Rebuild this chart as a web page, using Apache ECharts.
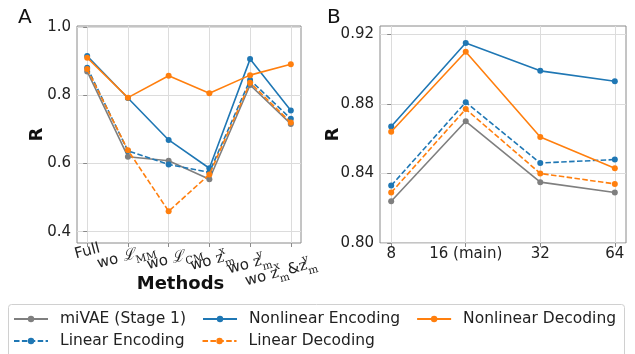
<!DOCTYPE html>
<html><head><meta charset="utf-8">
<script src="https://cdn.jsdelivr.net/npm/echarts@6/dist/echarts.min.js"></script>
<style>html,body{margin:0;padding:0;background:#fff}#c{width:635px;height:354px}</style>
</head><body><div id="c"></div>
<script>
// ---------- data ----------
const seriesNames = ['miVAE (Stage 1)', 'Linear Encoding', 'Nonlinear Encoding', 'Linear Decoding', 'Nonlinear Decoding'];
const methodLabels = ['Full', 'wo ℒ_{MM}', 'wo ℒ_{CM}', 'wo z^{x}_{m}', 'wo z^{y}_{m}', 'wo z^{x}_{m}&z^{y}_{m}'];
const dimLabels = ['8', '16 (main)', '32', '64'];
const yTicksA = [0.4, 0.6, 0.8, 1.0];
const yTicksB = [0.80, 0.84, 0.88, 0.92];

// Panel A: ablation (R per method)
const ablMiVAE  = [0.870, 0.620, 0.608, 0.554, 0.830, 0.716];
const ablLinEnc = [0.881, 0.637, 0.597, 0.574, 0.845, 0.731];
const ablNonEnc = [0.915, 0.792, 0.669, 0.586, 0.906, 0.755];
const ablLinDec = [0.877, 0.639, 0.460, 0.568, 0.837, 0.720];
const ablNonDec = [0.910, 0.793, 0.857, 0.806, 0.859, 0.891];

// Panel B: latent dimension (R per dim)
const dimMiVAE  = [0.824, 0.870, 0.835, 0.829];
const dimLinEnc = [0.833, 0.881, 0.846, 0.848];
const dimNonEnc = [0.867, 0.915, 0.899, 0.893];
const dimLinDec = [0.829, 0.877, 0.840, 0.834];
const dimNonDec = [0.864, 0.910, 0.861, 0.843];

// ---------- styling ----------
const C = { gray: '#7f7f7f', blue: '#1f77b4', orange: '#ff7f0e' };
const seriesStyle = {
  'miVAE (Stage 1)':   { color: C.gray, type: 'solid' },
  'Linear Encoding':   { color: C.blue, type: [5.5, 2.4] },
  'Nonlinear Encoding':{ color: C.blue, type: 'solid' },
  'Linear Decoding':   { color: C.orange, type: [5.5, 2.4] },
  'Nonlinear Decoding':{ color: C.orange, type: 'solid' }
};
const ablData = [ablMiVAE, ablLinEnc, ablNonEnc, ablLinDec, ablNonDec];
const dimData = [dimMiVAE, dimLinEnc, dimNonEnc, dimLinDec, dimNonDec];

const TXT = '#222';
const FRAME = '#8a8a8a';
const GRIDC = '#dcdcdc';
const vSpace = [1, 10, 17, 20, 25, 36];   // label drop (rotated layout)
const hSpace = [0, 6, -8, 0, 8, 30];      // >0 trailing pad (shift left), <0 leading pad (shift right)

function toRich(label, i) {
  let out = '{sp' + i + '| }\n';
  if (hSpace[i] < 0) out += '{hs' + i + '| }';
  const parts = label.split(/(\^\{[^}]*\}|_\{[^}]*\})/).filter(p => p.length);
  parts.forEach(p => {
    if (p[0] === '^') out += '{sup|' + p.slice(2, -1) + '}';
    else if (p[0] === '_') out += '{sub|' + p.slice(2, -1) + '}';
    else {
      p.split(/([zℒ])/).filter(s => s.length).forEach(s => {
        if (s === 'z') out += '{m|z}';
        else if (s === 'ℒ') out += '{cal|ℒ}';
        else out += '{t|' + s + '}';
      });
    }
  });
  if (hSpace[i] > 0) out += '{hs' + i + '| }';
  return out;
}

const richA = {
  t:   { fontFamily: 'DejaVu Sans', fontSize: 15, lineHeight: 24, color: TXT },
  m:   { fontFamily: 'DejaVu Serif', fontSize: 15, lineHeight: 24, color: TXT },
  cal: { fontFamily: 'DejaVu Serif', fontStyle: 'italic', fontSize: 15, lineHeight: 24, color: TXT },
  sup: { fontFamily: 'DejaVu Serif', fontSize: 10.5, lineHeight: 12, verticalAlign: 'top', width: 0, color: TXT },
  sub: { fontFamily: 'DejaVu Serif', fontSize: 10.5, lineHeight: 14, verticalAlign: 'bottom', color: TXT }
};
vSpace.forEach((s, i) => { richA['sp' + i] = { fontSize: 1, lineHeight: s }; });
hSpace.forEach((s, i) => { richA['hs' + i] = { fontSize: 1, width: Math.abs(s), lineHeight: 2 }; });

const ticksA = methodLabels.map((_, i) => i);
const ticksB = dimLabels.map((_, i) => i);
const labelValsA = [-0.25].concat(ticksA, [5.25]);   // empty edge labels keep all method labels visible

const series = [];
seriesNames.forEach((name, k) => {
  const st = seriesStyle[name];
  const common = {
    name, type: 'line', symbol: 'circle', symbolSize: 6, showSymbol: true,
    itemStyle: { color: st.color },
    lineStyle: { color: st.color, width: 1.6, type: st.type },
    emphasis: { disabled: true }, animation: false, z: 2 + k
  };
  series.push(Object.assign({}, common, { xAxisIndex: 0, yAxisIndex: 0, data: ablData[k].map((v, i) => [i, v]) }));
  series.push(Object.assign({}, common, { xAxisIndex: 1, yAxisIndex: 1, data: dimData[k].map((v, i) => [i, v]) }));
});

const axisCommon = {
  axisLine: { show: false },
  nameMoveOverlap: false,
  splitLine: { show: true, lineStyle: { color: GRIDC, width: 1 } }
};
const labelShowAll = { hideOverlap: false };

const legendCommon = {
  orient: 'horizontal', padding: 0, itemWidth: 34, itemHeight: 8,
  selectedMode: false,
  textStyle: { fontFamily: 'DejaVu Sans', fontSize: 15.5, color: TXT, padding: [0, 0, 0, 7] }
};

const option = {
  animation: false,
  backgroundColor: '#fff',
  title: [
    { text: 'A', left: 13, top: 3, textStyle: { fontFamily: 'DejaVu Sans', fontSize: 20, fontWeight: 'normal', color: '#111' } },
    { text: 'B', left: 322, top: 3, textStyle: { fontFamily: 'DejaVu Sans', fontSize: 20, fontWeight: 'normal', color: '#111' } }
  ],
  grid: [
    { left: 77, top: 26, width: 224, height: 217, show: true, borderColor: FRAME, borderWidth: 1, backgroundColor: 'transparent', outerBoundsMode: 'none', containLabel: false },
    { left: 380, top: 26, width: 246, height: 217, show: true, borderColor: FRAME, borderWidth: 1, backgroundColor: 'transparent', outerBoundsMode: 'none', containLabel: false }
  ],
  xAxis: [
    Object.assign({}, axisCommon, {
      gridIndex: 0, type: 'value', min: -0.25, max: 5.25,
      name: 'Methods', nameLocation: 'middle', nameGap: 32,
      nameTextStyle: { fontFamily: 'DejaVu Sans', fontSize: 18, fontWeight: 'bold', color: '#111', padding: [0, 17, 0, 0] },
      axisTick: { show: true, length: 4, lineStyle: { color: FRAME }, customValues: ticksA },
      axisLabel: Object.assign({}, labelShowAll, {
        customValues: labelValsA, rotate: 15, margin: 8, align: 'center', verticalAlign: 'middle',
        formatter: v => {
          const i = Math.round(v);
          if (Math.abs(v - i) > 1e-6 || i < 0 || i >= methodLabels.length) return '';
          return toRich(methodLabels[i], i);
        },
        rich: richA
      })
    }),
    Object.assign({}, axisCommon, {
      gridIndex: 1, type: 'value', min: -0.15, max: 3.15,
      axisTick: { show: true, length: 4, lineStyle: { color: FRAME }, customValues: ticksB },
      axisLabel: Object.assign({}, labelShowAll, {
        customValues: ticksB, showMinLabel: true, showMaxLabel: true, margin: 4, fontFamily: 'DejaVu Sans', fontSize: 15, color: TXT,
        formatter: v => dimLabels[Math.round(v)]
      })
    })
  ],
  yAxis: [
    Object.assign({}, axisCommon, {
      gridIndex: 0, type: 'value', min: 0.367, max: 1.003,
      name: 'R', nameLocation: 'middle', nameGap: 31,
      nameTextStyle: { fontFamily: 'DejaVu Sans', fontSize: 18, fontWeight: 'bold', color: '#111' },
      axisTick: { show: true, length: 4, lineStyle: { color: FRAME }, customValues: yTicksA },
      axisLabel: Object.assign({}, labelShowAll, { customValues: yTicksA, showMinLabel: true, showMaxLabel: true, margin: 6, fontFamily: 'DejaVu Sans', fontSize: 15, color: TXT, formatter: v => v.toFixed(1) })
    }),
    Object.assign({}, axisCommon, {
      gridIndex: 1, type: 'value', min: 0.80, max: 0.9248,
      name: 'R', nameLocation: 'middle', nameGap: 38,
      nameTextStyle: { fontFamily: 'DejaVu Sans', fontSize: 18, fontWeight: 'bold', color: '#111' },
      axisTick: { show: true, length: 4, lineStyle: { color: FRAME }, customValues: yTicksB },
      axisLabel: Object.assign({}, labelShowAll, { customValues: yTicksB, showMinLabel: true, showMaxLabel: true, margin: 6, fontFamily: 'DejaVu Sans', fontSize: 15, color: TXT, formatter: v => v.toFixed(2) })
    })
  ],
  legend: [
    Object.assign({}, legendCommon, { left: 13, top: 311, itemGap: 16, data: ['miVAE (Stage 1)', 'Nonlinear Encoding', 'Nonlinear Decoding'] }),
    Object.assign({}, legendCommon, { left: 13, top: 333, itemGap: 17, data: ['Linear Encoding', 'Linear Decoding'] })
  ],
  graphic: [
    { type: 'rect', z: 0, silent: true, shape: { x: 8.5, y: 304.5, width: 616, height: 60, r: 3 }, style: { fill: '#fff', stroke: '#d0d0d0', lineWidth: 1 } }
  ],
  series
};

const chart = echarts.init(document.getElementById('c'), null, { renderer: 'canvas', width: 635, height: 354 });
chart.setOption(option);
</script></body></html>
